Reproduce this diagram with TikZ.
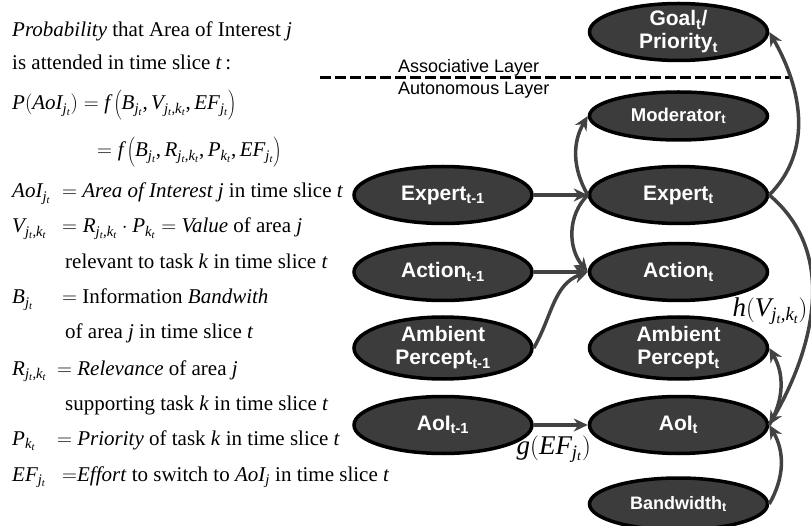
\documentclass[tikz,border=0pt]{standalone}
\usepackage{fontspec}
\setmainfont{Liberation Serif}
\setsansfont{Liberation Sans}
% math letters in the serif italic of the text
\DeclareSymbolFont{letters}{TU}{\rmdefault}{m}{it}
\DeclareSymbolFont{operators}{TU}{\rmdefault}{m}{n}
\mathcode`\,="602C
\usetikzlibrary{positioning, shapes.geometric, arrows.meta}
\definecolor{nodegray}{RGB}{60,60,60}
\definecolor{arrowgray}{RGB}{66,66,66}
\tikzstyle{state}=[ellipse, draw=black, fill=nodegray, line width=3.5pt, minimum width=178pt, minimum height=57pt, inner sep=-10pt, text=white, align=center, font={\sffamily\bfseries\fontsize{21}{23}\selectfont}]
\tikzstyle{flow}=[draw=arrowgray, line width=3.5pt, -{Stealth[length=14pt,width=13pt]}]
\tikzstyle{eqline}=[anchor=base west, inner sep=0pt, font={\fontsize{21}{25}\selectfont}]
\tikzstyle{layer}=[anchor=base west, inner sep=0pt, font={\sffamily\fontsize{18}{20}\selectfont}]
\tikzstyle{fnlabel}=[inner sep=0pt, font={\fontsize{27}{27}\selectfont}]
\newcommand{\eqlhs}[2][50pt]{\makebox[#1][l]{$#2$}}
\newcommand{\tallstrut}{\rule[-9pt]{0pt}{28pt}}

\begin{document}
\begin{tikzpicture}[x=1pt, y=1pt]
            \useasboundingbox (0,0) rectangle (811,-526);
            %definitions on the left
            \node[eqline] (l1) at (12,-37) {\textit{Probability} that Area of Interest \textit{j}};
            \node[eqline] (l2) at (12,-70) {is attended in time slice \textit{t}\,:};
            \node[eqline] (l3) at (12,-110) {$P(AoI_{j_t}) = f\left(\tallstrut B_{j_t}, V_{j_t,k_t}, EF_{j_t}\right)$};
            \node[eqline] (l4) at (97,-157) {$= f\left(\tallstrut B_{j_t}, R_{j_t,k_t}, P_{k_t}, EF_{j_t}\right)$};
            \node[eqline] (l5) at (12,-198) {\eqlhs{AoI_{j_t}}$=$ \textit{Area of Interest j} in time slice \textit{t}};
            \node[eqline] (l6) at (12,-233) {\eqlhs{V_{j_t,k_t}}$=R_{j_t,k_t}\cdot P_{k_t} = $ \textit{Value} of area \textit{j}};
            \node[eqline] (l7) at (65,-269) {relevant to task \textit{k} in time slice \textit{t}};
            \node[eqline] (l8) at (12,-304) {\eqlhs{B_{j_t}}$=$ Information \textit{Bandwith}};
            \node[eqline] (l9) at (65,-339) {of area \textit{j} in time slice \textit{t}};
            \node[eqline] (l10) at (12,-375) {\eqlhs[45pt]{R_{j_t,k_t}}$=$ \textit{Relevance} of area \textit{j}};
            \node[eqline] (l11) at (65,-410) {supporting task \textit{k} in time slice \textit{t}};
            \node[eqline] (l12) at (12,-445) {\eqlhs[45pt]{P_{k_t}}$=$ \textit{Priority} of task \textit{k} in time slice \textit{t}};
            \node[eqline] (l13) at (12,-481) {\eqlhs{EF_{j_t}}$=$\textit{Effort} to switch to $AoI_j$ in time slice \textit{t}};

            %layer border
            \coordinate (dash-w) at (320,-78);
            \coordinate (dash-e) at (789,-78);
            \draw[black, line width=3pt, dash pattern=on 11pt off 4pt] (dash-w) -- (dash-e);
            \node[layer] (assoc) at (398,-73) {Associative Layer};
            \node[layer] (auton) at (398,-95) {Autonomous Layer};

            %time slices t-1 and t
            \foreach \nm/\txt/\yy/\hh in {expert/Expert/195/57, action/Action/272/57, ambient/{Ambient\\Percept}/348/62, aoi/AoI/425/57}{
                \node[state, minimum height=\hh pt] (\nm-1) at (443,-\yy) {\txt\textsubscript{t-1}};
                \node[state, minimum height=\hh pt, right = 54pt of \nm-1] (\nm) {\txt\textsubscript{t}};
            }
            \node[state, minimum height=48pt, font={\sffamily\bfseries\fontsize{18.5}{20}\selectfont}, above = 23pt of expert] (moderator) {Moderator\textsubscript{t}};
            \node[state, above = 28pt of moderator] (goal) {Goal\textsubscript{t}/\\Priority\textsubscript{t}};
            \node[state, minimum height=52pt, font={\sffamily\bfseries\fontsize{18}{20}\selectfont}, below = 21pt of aoi] (bandwidth) {Bandwidth\textsubscript{t}};

            \draw[flow] (expert-1.east) -- (expert.west);
            \draw[flow] (action-1.east) -- (action.west);
            \draw[flow] (ambient-1.east) to[out=60, in=200] (action.west);
            \draw[flow] (aoi-1.east) -- (aoi.west) node[fnlabel, midway, below = 9pt, xshift=-7pt] (g) {$g(EF_{j_t})$};
            \draw[flow] (expert.west) to[out=120, in=240] (moderator.west);
            \draw[flow] (expert.west) to[out=225, in=130] (action.west);
            \draw[flow] (expert.east) to[out=45, in=-60] (goal.east);
            \draw[flow] (expert.east) to[out=-40, in=60] (aoi.east);
            \draw[flow] (aoi.east) to[out=60, in=-60] (ambient.east);
            \draw[flow] (bandwidth.east) to[out=60, in=-60] (aoi.east);
            \node[fnlabel] (h) at (770,-311) {$h(V_{j_t,k_t})$};

        \end{tikzpicture}
\end{document}
